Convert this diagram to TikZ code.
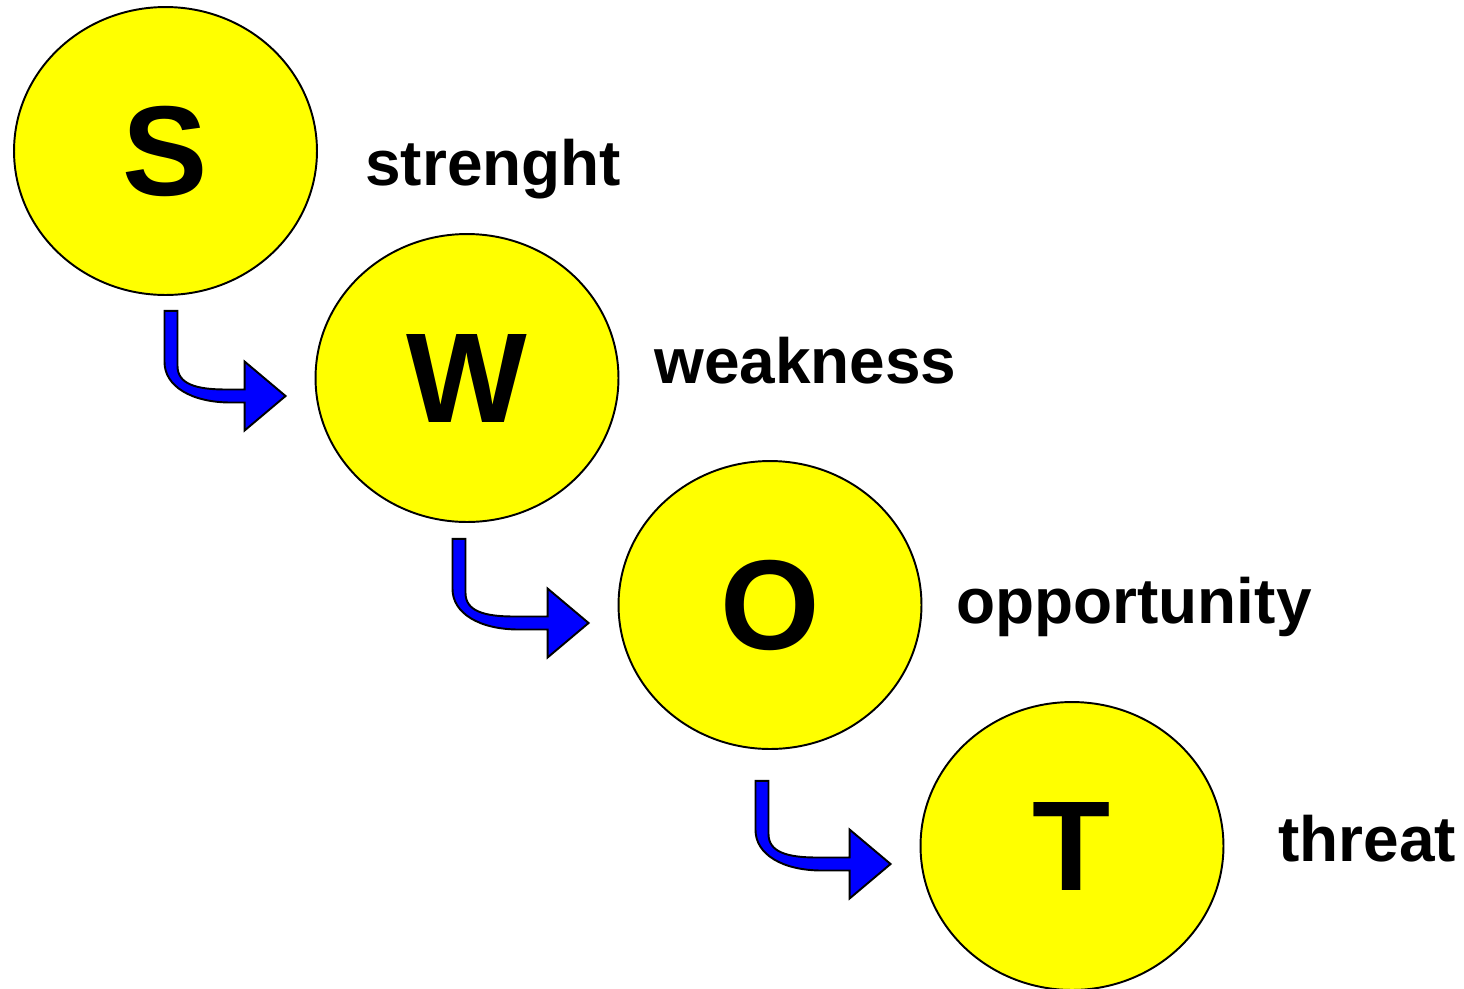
\documentclass[tikz,border=0pt]{standalone}
\usepackage{fontspec}
\setmainfont{Liberation Sans}
\usetikzlibrary{calc,shapes.geometric}
\definecolor{cYellow}{RGB}{255,255,0}
\definecolor{cBlue}{RGB}{0,0,255}

\tikzset{
    bubble/.style={ellipse, draw=black, line width=1.1pt, fill=cYellow, inner sep=0pt,
        minimum width=6.06cm, minimum height=5.76cm,
        font=\fontsize{72.8pt}{80pt}\selectfont\bfseries},
    word/.style={anchor=base west, inner sep=0pt,
        font=\fontsize{36.4pt}{40pt}\selectfont\bfseries},
    bent/.style={draw=black, line width=1.1pt, fill=cBlue, line join=miter}
}

\begin{document}
\begin{tikzpicture}[x=0.02cm, y=-0.02cm]
        \useasboundingbox (0,0) rectangle (1464,988);
        \node[bubble] (S) at (165.5,151) {S};
        \node[bubble] (W) at (467,378) {W};
        \node[bubble] (O) at (770,605) {O};
        \node[bubble] (T) at (1072,846) {T};
        \node[word] (strenght) at (365,185) {strenght};
        \node[word] (weakness) at (654,383) {weakness};
        \node[word] (opportunity) at (956,623) {opportunity};
        \node[word] (threat) at (1278,861) {threat};
        % bent arrows: stem top (A), tip (B), corner (C)
        \foreach \from/\to/\dx/\dy in {S/W/5.5/15, W/O/-8/16, O/T/-8/31} {
            \coordinate (A) at ($(\from.south)+(\dx,\dy)$);
            \coordinate (B) at ($(\to.west)+(-29,18)$);
            \coordinate (C) at (A |- B);
            \draw[bent] ($(A)+(-6.5,0)$) -- ($(A)+(6.5,0)$) -- ($(C)+(6.5,-30)$)
                .. controls ($(C)+(6.5,-12)$) and ($(C)+(25,-6.5)$) .. ($(C)+(55,-6.5)$)
                -- ($(B)+(-41,-6.5)$) -- ($(B)+(-41,-34.5)$) -- (B)
                -- ($(B)+(-41,34.5)$) -- ($(B)+(-41,6.5)$) -- ($(C)+(60,6.5)$)
                .. controls ($(C)+(20,6.5)$) and ($(C)+(-6.5,-10)$) .. ($(C)+(-6.5,-34)$)
                -- cycle;
        }
\end{tikzpicture}
\end{document}
